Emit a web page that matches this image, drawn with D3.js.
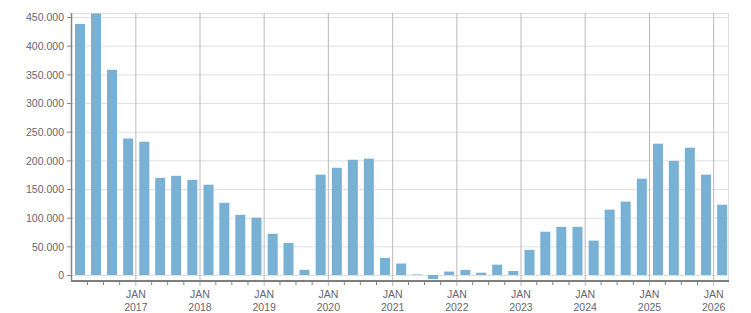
<!DOCTYPE html>
<html lang="en">
<head>
    <meta charset="UTF-8" />
    <title>Quarterly bars</title>
    <script src="https://d3js.org/d3.v7.min.js"></script>
    <style>
        body { margin: 0; background: #fff; }
        text { font-family: "Liberation Sans", Arial, sans-serif; font-size: 10.5px; fill: #666670; }
    </style>
</head>
<body>
    <script>
        // quarters (start month of each quarter)
        var quarters = [
            "2016-01", "2016-04", "2016-07", "2016-10",
            "2017-01", "2017-04", "2017-07", "2017-10",
            "2018-01", "2018-04", "2018-07", "2018-10",
            "2019-01", "2019-04", "2019-07", "2019-10",
            "2020-01", "2020-04", "2020-07", "2020-10",
            "2021-01", "2021-04", "2021-07", "2021-10",
            "2022-01", "2022-04", "2022-07", "2022-10",
            "2023-01", "2023-04", "2023-07", "2023-10",
            "2024-01", "2024-04", "2024-07", "2024-10",
            "2025-01", "2025-04", "2025-07", "2025-10",
            "2026-01"
        ];
        var values = [
            438000, 456000, 358000, 238000,
            232500, 169500, 173000, 166000,
            157500, 126000, 105000, 100000,
            72000, 56000, 9000, 175000,
            187000, 201000, 203000, 30000,
            20000, 1000, -7000, 6000,
            9000, 4000, 18000, 7000,
            44000, 75500, 84000, 84000,
            60000, 114000, 128000, 168000,
            229000, 199000, 222000, 175000,
            122500
        ];
        var yTicks = [0, 50000, 100000, 150000, 200000, 250000, 300000, 350000, 400000, 450000];
        var yearTicks = ["2017", "2018", "2019", "2020", "2021", "2022", "2023", "2024", "2025", "2026"];
        var monthLabel = "JAN";

        var w = 751;
        var h = 313;
        var left = 71, right = 729;

        var parseQ = d3.timeParse("%Y-%m");
        var parseY = d3.timeParse("%Y");
        var dataset = quarters.map(function (q, i) {
            return { date: parseQ(q), value: values[i] };
        });

        var xScale = d3.scaleTime()
            .domain([parseQ("2016-01"), parseQ("2026-04")])
            .range([left, right]);

        var yScale = d3.scaleLinear()
            .domain([0, 450000])
            .range([275, 17]);
        var yTop = yScale(457000);
        var yBottom = yScale(-10000);

        var fmt = d3.formatLocale({ decimal: ",", thousands: ".", grouping: [3], currency: ["", ""] }).format(",d");

        var svg = d3.select("body")
            .append("svg")
            .attr("width", w)
            .attr("height", h);

        // horizontal grid
        svg.append("g")
            .attr("class", "y grid")
            .attr("transform", "translate(" + left + ",0)")
            .call(d3.axisRight(yScale).tickValues(yTicks).tickSize(right - left).tickFormat(""))
            .call(function (g) { g.select(".domain").remove(); })
            .selectAll(".tick line").attr("stroke", "#e0e0e0");

        // frame top + right
        svg.append("line")
            .attr("x1", left).attr("x2", right + 0.5)
            .attr("y1", Math.round(yTop) + 0.5).attr("y2", Math.round(yTop) + 0.5)
            .attr("stroke", "#dcdcdc");
        svg.append("line")
            .attr("x1", right - 0.5).attr("x2", right - 0.5)
            .attr("y1", yTop).attr("y2", yBottom)
            .attr("stroke", "#dcdcdc");

        // year grid lines extending below the axis
        svg.append("g")
            .attr("class", "x grid")
            .attr("transform", "translate(0," + yTop + ")")
            .call(d3.axisBottom(xScale)
                .tickValues(yearTicks.map(function (d) { return parseY(d); }))
                .tickSize(Math.round(yBottom) + 5 - yTop)
                .tickFormat(""))
            .call(function (g) { g.select(".domain").remove(); })
            .selectAll(".tick line").attr("stroke", "#b9b9b9");

        // bars
        svg.selectAll("rect")
            .data(dataset)
            .enter()
            .append("rect")
            .attr("x", function (d) { return xScale(d.date) + 4; })
            .attr("width", 10)
            .attr("y", function (d) { return yScale(Math.max(0, d.value)); })
            .attr("height", function (d) { return Math.abs(yScale(d.value) - yScale(0)); })
            .attr("fill", "#78b1d4");

        // quarter minor ticks
        svg.append("g")
            .attr("class", "x minor")
            .attr("transform", "translate(0," + (Math.round(yBottom) - 0.5) + ")")
            .call(d3.axisBottom(xScale)
                .tickValues(dataset.map(function (d) { return d.date; }).filter(function (d) { return d.getMonth() !== 0; }))
                .tickSize(4.5).tickFormat(""))
            .call(function (g) { g.select(".domain").remove(); })
            .selectAll(".tick line").attr("stroke", "#7f7f7f");

        // bottom axis line
        svg.append("line")
            .attr("x1", left).attr("x2", right)
            .attr("y1", Math.round(yBottom)).attr("y2", Math.round(yBottom))
            .attr("stroke", "#7f7f7f")
            .attr("stroke-width", 2);

        // left axis
        var gy = svg.append("g")
            .attr("class", "y axis")
            .attr("transform", "translate(" + left + ",0)")
            .call(d3.axisLeft(yScale).tickValues(yTicks).tickSizeInner(4).tickSizeOuter(0).tickPadding(3).tickFormat(fmt));
        gy.select(".domain")
            .attr("d", "M0.5," + yTop + "V" + yBottom)
            .attr("stroke", "#858585")
            .attr("stroke-width", 1.5);
        gy.selectAll(".tick line").attr("stroke", "#858585");
        gy.selectAll("text")
            .style("font-family", "'Liberation Sans', Arial, sans-serif")
            .style("font-size", "10.5px")
            .attr("fill", "#666670")
            .attr("dy", "0.36em");

        // year labels (JAN / year)
        var lab = svg.append("g").attr("class", "x labels")
            .selectAll("text")
            .data(yearTicks)
            .enter()
            .append("text")
            .attr("text-anchor", "middle")
            .attr("x", function (d) { return xScale(parseY(d)) + 0.5; });
        lab.append("tspan")
            .attr("x", function (d) { return xScale(parseY(d)) + 0.5; })
            .attr("y", 298)
            .text(monthLabel);
        lab.append("tspan")
            .attr("x", function (d) { return xScale(parseY(d)) + 0.5; })
            .attr("y", 311)
            .text(function (d) { return d; });
    </script>
</body>
</html>
